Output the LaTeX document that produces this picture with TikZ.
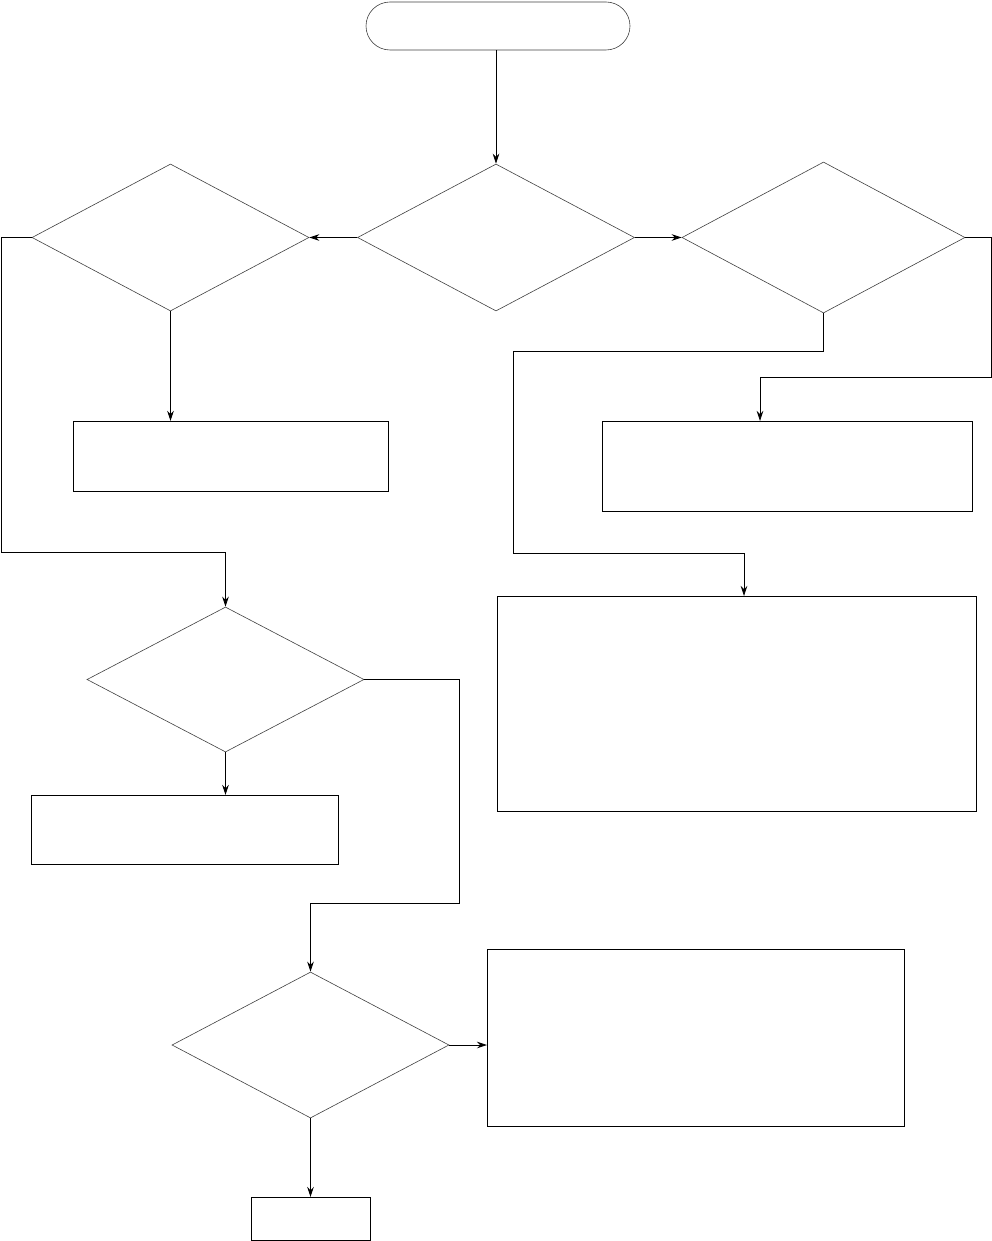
\documentclass[tikz,border=0pt]{standalone}
\usetikzlibrary{shapes.geometric,arrows.meta}
\begin{document}
\begin{tikzpicture}[x=1pt,y=-1pt,
  dec/.style={draw=black!75,line width=0.6pt,shape=diamond,inner sep=0pt,minimum width=#1},
  procbox/.style={draw=black,line width=0.9pt,rectangle,inner sep=0pt,anchor=north west},
  arr/.style={line width=0.8pt,-{Stealth[length=10pt,width=6.5pt]}},
  ln/.style={line width=0.8pt}]
\useasboundingbox (0,0) rectangle (992,1241);
% start
\node[draw=black!75,line width=0.6pt,rectangle,rounded corners=24pt,minimum width=264pt,minimum height=48pt,inner sep=0pt] (start) at (498,26) {};
% decisions
\node[dec=277pt,minimum height=147pt] (d1) at (496,237.5) {};
\node[dec=277pt,minimum height=147pt] (d2) at (170.5,237.5) {};
\node[dec=283pt,minimum height=151pt] (d3) at (823.5,237.5) {};
\node[dec=277pt,minimum height=145pt] (d4) at (225.5,679.5) {};
\node[dec=277pt,minimum height=146pt] (d5) at (310.5,1045) {};
% boxes
\node[procbox,minimum width=315pt,minimum height=70pt] (b1) at (73,421) {};
\node[procbox,minimum width=370pt,minimum height=90pt] (b2) at (602,421) {};
\node[procbox,minimum width=307pt,minimum height=69pt] (b3) at (31,795) {};
\node[procbox,minimum width=479pt,minimum height=215pt] (b4) at (497,596) {};
\node[procbox,minimum width=417pt,minimum height=177pt] (b5) at (487,949) {};
\node[procbox,minimum width=119pt,minimum height=43pt] (b6) at (251,1197) {};
% coordinates for bends
\coordinate (c2a) at (1,237.5);
\coordinate (c2b) at (1,552);
\coordinate (c3a) at (823.5,351);
\coordinate (c3b) at (513,351);
\coordinate (c3c) at (513,553);
\coordinate (c3f) at (744,553);
\coordinate (c3d) at (991,237.5);
\coordinate (c3e) at (991,377);
\coordinate (c3g) at (760,377);
\coordinate (c4a) at (459,679.5);
\coordinate (c4b) at (459,903);
% connectors
\draw[arr] (start.south -| d1.north) -- (d1.north);
\draw[arr] (d1.west) -- (d2.east);
\draw[arr] (d1.east) -- (d3.west);
\draw[arr] (d2.south) -- (d2.south |- b1.north);
\draw[arr] (d2.west) -- (c2a) -- (c2b) -| (d4.north);
\draw[arr] (d3.south) -- (c3a) -- (c3b) -- (c3c) -- (c3f) -- (c3f |- b4.north);
\draw[arr] (d3.east) -- (c3d) -- (c3e) -- (c3g) -- (c3g |- b2.north);
\draw[arr] (d4.south) -- (b3.north -| d4.south);
\draw[arr] (d4.east) -- (c4a) -- (c4b) -| (d5.north);
\draw[arr] (d5.east) -- (d5.east -| b5.west);
\draw[arr] (d5.south) -- (b6.north -| d5.south);
\end{tikzpicture}
\end{document}
